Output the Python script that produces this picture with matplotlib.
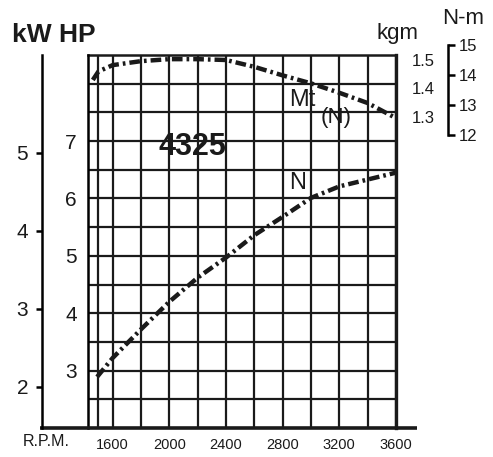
import numpy as np
import matplotlib.pyplot as plt

plt.rcParams['font.family'] = ['Liberation Sans', 'DejaVu Sans']

# ---------------------------
# Data
# ---------------------------
rpm_mt = [1460, 1500, 1600, 1800, 2000, 2200, 2400, 2600, 2800, 3000, 3200, 3400, 3600]
torque_kgm = [1.43, 1.46, 1.482, 1.496, 1.503, 1.503, 1.500, 1.476, 1.446, 1.418, 1.385, 1.349, 1.296]

rpm_n = [1490, 1600, 1800, 2000, 2200, 2400, 2600, 2800, 3000, 3200, 3400, 3600]
power_hp = [2.89, 3.22, 3.72, 4.20, 4.62, 4.97, 5.36, 5.68, 6.01, 6.21, 6.33, 6.45]

rpm_ticks = [1600, 2000, 2400, 2800, 3200, 3600]
rpm_grid = [1500, 1600, 1800, 2000, 2200, 2400, 2600, 2800, 3000, 3200, 3400, 3600]
hp_ticks = [3, 4, 5, 6, 7]
kw_ticks = [2, 3, 4, 5]
kgm_ticks = [1.3, 1.4, 1.5]
nm_ticks = [12, 13, 14, 15]

HP_PER_KW = 1.36
ink = '#1a1a1a'

W, H = 493, 457
fig = plt.figure(figsize=(W / 100, H / 100), dpi=100)

# main grid area in pixels
x0, x1, y0, y1 = 88, 396, 55, 428
ax = fig.add_axes([x0 / W, 1 - y1 / H, (x1 - x0) / W, (y1 - y0) / H])
ax.set_xlim(1426, 3600)
ax.set_ylim(2, 8.5)

# grid
for r in rpm_grid:
    ax.axvline(r, color=ink, lw=1.6, zorder=1)
for h in np.arange(2.5, 8.5, 0.5):
    ax.axhline(h, color=ink, lw=1.6, zorder=1)
ax.axhline(8.5, color=ink, lw=1.8, zorder=1, clip_on=False)

for s in ['top', 'right']:
    ax.spines[s].set_visible(False)
ax.spines['left'].set_linewidth(1.8)
ax.spines['bottom'].set_visible(False)
ax.axvline(3600, color=ink, lw=2.4, zorder=1, clip_on=False)
# long bottom base line
ax.plot([-0.156, 1.068], [0, 0], transform=ax.transAxes, color=ink, lw=2.6,
        clip_on=False, solid_capstyle='butt', zorder=3)

ax.set_xticks(rpm_ticks)
ax.set_xticklabels([str(t) for t in rpm_ticks], fontsize=10.5, color=ink)
ax.tick_params(axis='x', length=0, pad=7)
ax.set_yticks(hp_ticks)
ax.set_yticklabels([str(t) for t in hp_ticks], fontsize=15, color=ink)
ax.tick_params(axis='y', length=0, pad=8)

# power curve
dash = (0, (2.4, 0.9, 0.6, 0.9))
ax.plot(rpm_n, power_hp, color=ink, lw=3.2, linestyle=dash, zorder=4)

# kW axis
ax_kw = ax.twinx()
ax_kw.set_ylim(2 / HP_PER_KW, 8.5 / HP_PER_KW)
for s in ['top', 'right', 'bottom']:
    ax_kw.spines[s].set_visible(False)
ax_kw.spines['left'].set_visible(True)
ax_kw.spines['left'].set_position(('axes', (42 - x0) / (x1 - x0)))
ax_kw.spines['left'].set_linewidth(1.8)
ax_kw.yaxis.set_ticks_position('left')
ax_kw.set_yticks(kw_ticks)
ax_kw.set_yticklabels([str(t) for t in kw_ticks], fontsize=15, color=ink)
ax_kw.tick_params(axis='y', length=4, width=1.8, pad=6)

# torque axis (kgm)
ax_t = ax.twinx()
ax_t.set_ylim(1.5 - 373 / 285 + 5 / 285, 1.5 + 5 / 285)
for s in ['top', 'left', 'bottom', 'right']:
    ax_t.spines[s].set_visible(False)
ax_t.set_yticks(kgm_ticks)
ax_t.set_yticklabels([str(t) for t in kgm_ticks], fontsize=12, color=ink)
ax_t.tick_params(axis='y', length=0, pad=11)
ax_t.plot(rpm_mt, torque_kgm, color=ink, lw=3.2, linestyle=dash, zorder=4)

# N-m bracket
ax_nm = fig.add_axes([448 / W, 1 - 135 / H, 0.0001, 90 / H])
ax_nm.set_ylim(12, 15)
for s in ['top', 'left', 'bottom']:
    ax_nm.spines[s].set_visible(False)
ax_nm.spines['right'].set_linewidth(1.8)
ax_nm.yaxis.set_ticks_position('right')
ax_nm.set_yticks(nm_ticks)
ax_nm.set_yticklabels([str(t) for t in nm_ticks], fontsize=12, color=ink)
ax_nm.tick_params(axis='y', length=5, width=1.8, pad=3)
ax_nm.set_xticks([])

# labels
fig.text(12 / W, 1 - 35 / H, 'kW HP', fontsize=19, fontweight='bold', color=ink,
         ha='left', va='center')
fig.text(397 / W, 1 - 34 / H, 'kgm', fontsize=16, color=ink, ha='center', va='center')
fig.text(463 / W, 1 - 19 / H, 'N-m', fontsize=16, color=ink, ha='center', va='center')
fig.text(46 / W, 1 - 441 / H, 'R.P.M.', fontsize=11.5, color=ink, ha='center', va='center')
fig.text(192 / W, 1 - 147 / H, '4325', fontsize=22, fontweight='bold', color=ink,
         ha='center', va='center')
fig.text(302 / W, 1 - 100 / H, 'Mt', fontsize=17, color=ink, ha='center', va='center')
fig.text(336 / W, 1 - 118 / H, '(N)', fontsize=16, color=ink, ha='center', va='center')
fig.text(298 / W, 1 - 183 / H, 'N', fontsize=17, color=ink, ha='center', va='center')

fig.savefig('out.png', dpi=100)
